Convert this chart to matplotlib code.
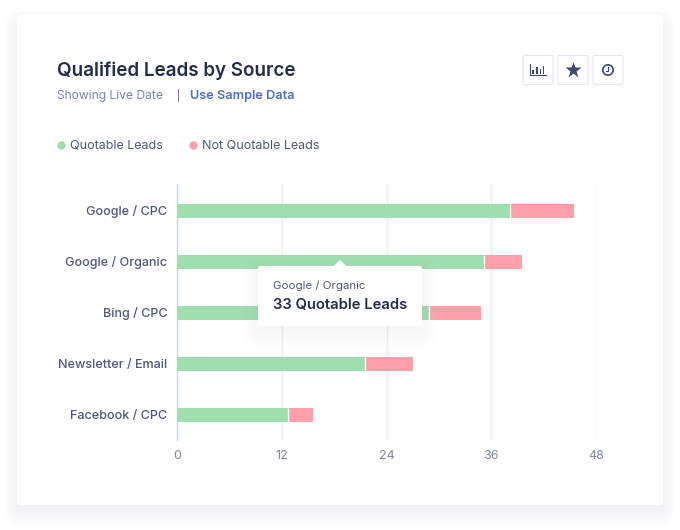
import matplotlib
matplotlib.use("Agg")
import matplotlib.pyplot as plt
from matplotlib.patches import FancyBboxPatch, Rectangle, Circle, Polygon
from matplotlib.lines import Line2D
from matplotlib.transforms import ScaledTranslation

plt.rcParams['font.family'] = ['Inter', 'DejaVu Sans']

categories = ['Google / CPC', 'Google / Organic', 'Bing / CPC', 'Newsletter / Email', 'Facebook / CPC']
quotable = [38.1, 35.2, 28.9, 21.5, 12.7]
not_quotable = [7.4, 4.3, 5.9, 5.5, 2.9]
x_ticks = [0, 12, 24, 36, 48]
GREEN, RED = '#9FDEAE', '#FF9FA9'
NAVY, SLATE, MUTED = '#252C4A', '#4F5878', '#7D86A4'
px = 0.72
W, H = 680, 530

fig = plt.figure(figsize=(W/100, H/100), dpi=100, facecolor='white')

def layer(z):
    a = fig.add_axes([0, 0, 1, 1], zorder=z)
    a.set_xlim(0, W); a.set_ylim(H, 0); a.axis('off'); a.patch.set_alpha(0)
    return a

def box(a, x0, y0, x1, y1, r=3, **kw):
    p = FancyBboxPatch((x0+r, y0+r), x1-x0-2*r, y1-y0-2*r,
                       boxstyle=f'round,pad={r},rounding_size={r}', **kw)
    a.add_patch(p)

bg = layer(0)
for g in range(18, 0, -2):
    box(bg, 17-g*0.7, 15-g*0.7+8, 663+g*0.7, 505+g*0.7+8, r=4+g, fc='#CDD2DE', ec='none', alpha=0.025)
box(bg, 17, 15, 663, 505, r=4, fc='white', ec='none')

bg.text(57, 70.5, 'Qualified Leads by Source', fontsize=18.8*px, fontweight='semibold', color=NAVY, va='center')
bg.text(57, 96, 'Showing Live Date', fontsize=12.1*px, color=MUTED, va='center')
bg.text(178, 96, '|', fontsize=10*px, color=SLATE, va='center', ha='center')
bg.text(190, 96, 'Use Sample Data', fontsize=12.7*px, fontweight='semibold', color='#4F6EBD', va='center')

# toolbar icons
for x0 in (523, 558, 593):
    box(bg, x0, 55.5, x0+30, 84.5, r=1.5, fc='white', ec='#E2E6F1', lw=0.8)
ic = '#3F4872'
bg.add_line(Line2D([530, 530, 546], [64, 75, 75], color=ic, lw=0.8))
for x, t in ((533, 70), (537, 66.5), (540.5, 69), (543.5, 65.5)):
    bg.add_patch(Rectangle((x-0.9, t), 1.8, 73.5-t, fc=ic, ec='none'))
bg.plot([573], [69.5], marker='*', ms=12, color=ic, mec='none')
bg.add_patch(Circle((608, 70), 5.2, fc='none', ec=ic, lw=1.2))
bg.add_line(Line2D([608, 608, 605.5], [67, 71, 71], color=ic, lw=0.8))

# main chart
ax = fig.add_axes([177/W, 1-440/H, (596-177)/W, (440-184)/H], zorder=1)
ax.patch.set_alpha(0)
y = list(range(len(categories)))
ax.barh(y, quotable, height=14/51, color=GREEN, edgecolor='none', zorder=3, label='Quotable Leads')
ax.barh(y, not_quotable, left=quotable, height=14/51, color=RED, edgecolor='none', zorder=3, label='Not Quotable Leads')
ax.vlines(quotable, [i-7/51 for i in y], [i+7/51 for i in y], color='white', lw=1.0, zorder=4)
ax.set_xlim(0, 48)
ax.set_ylim(4.49, -0.53)
ax.set_xticks(x_ticks)
ax.set_yticks(y, categories)
ax.grid(axis='x', color='#E6EFF4', lw=1, zorder=0)
ax.set_axisbelow(True)
for s in ('top', 'right', 'bottom'):
    ax.spines[s].set_visible(False)
ax.spines['left'].set_color('#C8D3E3'); ax.spines['left'].set_linewidth(0.9)
ax.tick_params(axis='both', length=0)
ax.tick_params(axis='x', pad=7, labelsize=12.5*px, labelcolor=MUTED)
ax.tick_params(axis='y', pad=7, labelsize=12.6*px, labelcolor=SLATE)
shift = ScaledTranslation(0, 0.8/100, fig.dpi_scale_trans)
for t in ax.get_yticklabels():
    t.set_fontweight('medium')
    t.set_transform(t.get_transform() + shift)

# legend
handles = [Line2D([], [], ls='none', marker='o', ms=8*px*1.05, color=GREEN, mec='none', label='Quotable Leads'),
           Line2D([], [], ls='none', marker='o', ms=8*px*1.05, color=RED, mec='none', label='Not Quotable Leads')]
leg = ax.legend(handles=handles, ncol=2, loc='center left', frameon=False,
                bbox_to_anchor=(53/W, 1-146/H), bbox_transform=fig.transFigure,
                prop={'size': 12.5*px}, labelcolor=SLATE, handletextpad=0.1,
                columnspacing=1.78, handlelength=1.25, borderpad=0, borderaxespad=0)

# tooltip
top = layer(2)
for g in range(16, 0, -2):
    box(top, 258-g, 266-g+5, 422+g, 326+g+5, r=3+g, fc='#D2D6E1', ec='none', alpha=0.02)
box(top, 258, 266, 422, 326, r=2, fc='white', ec='none')
top.add_patch(Polygon([[333, 266.5], [340, 260], [347, 266.5]], closed=True, fc='white', ec='none'))
top.text(273, 285.5, 'Google / Organic', fontsize=11.5*px, color=SLATE, va='center')
top.text(273, 305, '33 Quotable Leads', fontsize=14.8*px, fontweight='semibold', color=NAVY, va='center')

fig.savefig('out.png', dpi=100)
